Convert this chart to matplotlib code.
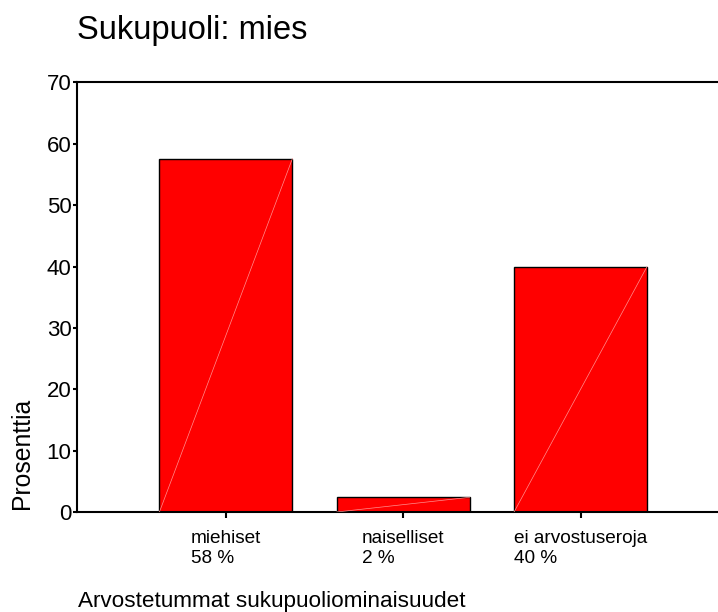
import matplotlib.pyplot as plt

# data
categories = ["miehiset", "naiselliset", "ei arvostuseroja"]
percent_labels = ["58 %", "2 %", "40 %"]
values = [57.6, 2.4, 40.0]

plt.rcParams['font.family'] = ['Liberation Sans', 'DejaVu Sans']

fig = plt.figure(figsize=(7.18, 6.12), dpi=100)
ax = fig.add_axes([0.1072, 0.1634, 0.8940, 0.7018])

x = list(range(len(categories)))
bars = ax.bar(x, values, width=0.75, color="#ff0000", edgecolor="black", linewidth=1.0, zorder=2)

# faint diagonal line inside each bar (SPSS artefact)
for b in bars:
    x0, y0 = b.get_x(), b.get_y()
    ax.plot([x0, x0 + b.get_width()], [y0, y0 + b.get_height()],
            color="#ff9090", linewidth=0.5, zorder=3)

ax.set_xlim(-0.84, 2.78)
ax.set_ylim(0, 70)
ax.set_yticks(range(0, 71, 10))
ax.set_xticks(x)
ax.set_xticklabels([f"{c}\n{p}" for c, p in zip(categories, percent_labels)],
                   fontsize=13.7, multialignment='left', linespacing=1.2)
ax.tick_params(axis='y', labelsize=16, length=3, width=1.5, pad=1)
ax.tick_params(axis='x', length=4, width=1.5, pad=9)

for side in ['left', 'bottom', 'top']:
    ax.spines[side].set_linewidth(1.5)
ax.spines['right'].set_visible(False)

fig.text(77 / 718, 1 - 39 / 612, "Sukupuoli: mies", fontsize=23.5, ha='left', va='baseline')
fig.text(78 / 718, 1 - 607 / 612, "Arvostetummat sukupuoliominaisuudet", fontsize=16.2,
         ha='left', va='baseline')
fig.text(22 / 718, 1 - 509 / 612, "Prosenttia", fontsize=17.8, rotation=90,
         ha='center', va='bottom')

fig.savefig("out.png", dpi=100)
